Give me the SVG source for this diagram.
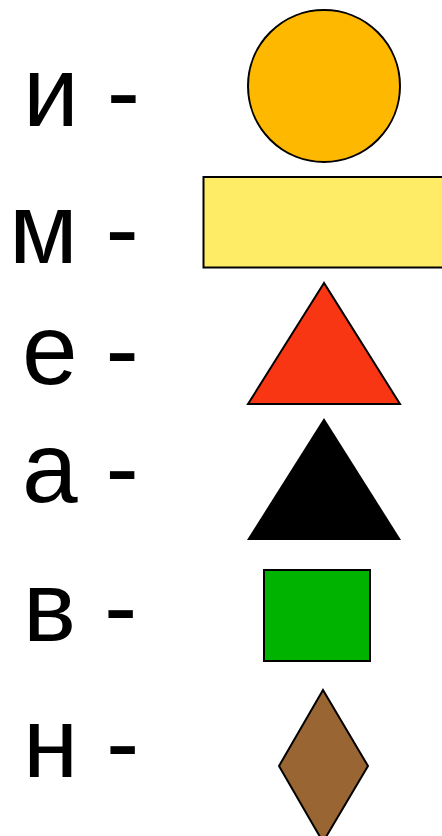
<svg xmlns="http://www.w3.org/2000/svg" width="442" height="836" viewBox="0 0 442 836">
<style>
.t{font-family:"Liberation Sans",Arial,sans-serif;font-size:100px;fill:#000}
.s{stroke:#000;stroke-width:2}
</style>
<rect width="442" height="836" fill="#fff"/>
<g id="labels">
<text class="t" x="23" y="126">и -</text>
<text class="t" x="9" y="263">м -</text>
<text class="t" x="22" y="384">е -</text>
<text class="t" x="22" y="502">а -</text>
<text class="t" x="23" y="641">в -</text>
<text class="t" x="23" y="777">н -</text>
</g>
<g id="circle"><circle class="s" cx="324" cy="86" r="76" fill="#FFB800"/></g>
<g id="rectangle"><rect class="s" x="203.5" y="177" width="250" height="90.5" fill="#FFEC66"/></g>
<g id="red-triangle"><polygon class="s" points="324,283 248,404 400,404" fill="#F93614"/></g>
<g id="black-triangle"><polygon points="324,418 247,540 401,540" fill="#000"/></g>
<g id="green-square"><rect class="s" x="264" y="570" width="106" height="91" fill="#00B300"/></g>
<g id="diamond"><polygon class="s" points="323,690 368,766 323,842 279,766" fill="#996633"/></g>
</svg>
